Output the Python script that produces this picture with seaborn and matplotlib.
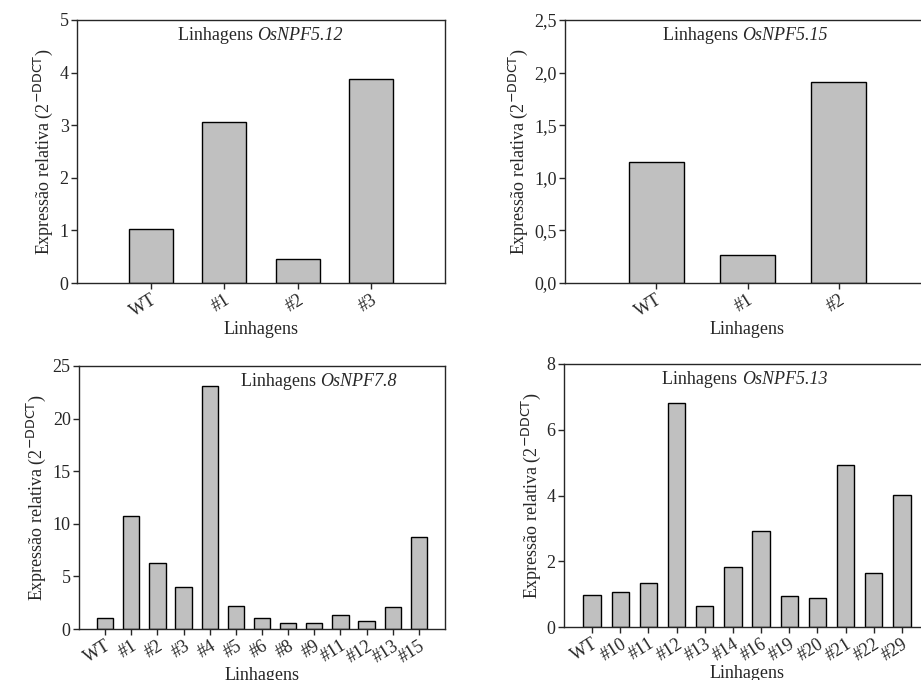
import pandas as pd
import seaborn as sns
from matplotlib import pyplot as plt

# data
lines_512 = ["WT", "#1", "#2", "#3"]
vals_512 = [1.03, 3.07, 0.46, 3.88]

lines_515 = ["WT", "#1", "#2"]
vals_515 = [1.15, 0.27, 1.91]

lines_78 = ["WT", "#1", "#2", "#3", "#4", "#5", "#6", "#8", "#9", "#11", "#12", "#13", "#15"]
vals_78 = [1.01, 10.76, 6.23, 4.02, 23.13, 2.22, 1.01, 0.60, 0.54, 1.36, 0.79, 2.06, 8.73]

lines_513 = ["WT", "#10", "#11", "#12", "#13", "#14", "#16", "#19", "#20", "#21", "#22", "#29"]
vals_513 = [0.98, 1.07, 1.33, 6.82, 0.65, 1.83, 2.91, 0.93, 0.89, 4.92, 1.65, 4.01]

sns.set_style("ticks")
plt.rcParams['font.family'] = ['Liberation Serif', 'DejaVu Serif']
plt.rcParams['mathtext.fontset'] = 'custom'
plt.rcParams['mathtext.rm'] = 'Liberation Serif'
plt.rcParams['mathtext.sf'] = 'Liberation Sans Narrow'

fs = 13
ylab = r"Expressão relativa (2$^{\mathsf{-DDCT}}$)"

fig = plt.figure(figsize=(9.21, 6.8), dpi=100)


def panel(rect, names, values, ymax, yticks, yticklabels, gene, split_x, bar_w):
    ax = fig.add_axes(rect)
    df = pd.DataFrame({"linha": names, "expr": values})
    sns.barplot(data=df, x="linha", y="expr", order=names, color="#c0c0c0",
                edgecolor="black", linewidth=1.0, width=bar_w, saturation=1, ax=ax)
    ax.set_xlim(-1, len(names))
    ax.set_ylim(0, ymax)
    ax.set_yticks(yticks)
    ax.set_yticklabels(yticklabels, fontsize=fs)
    ax.set_xticks(range(len(names)))
    ax.set_xticklabels(names, rotation=32, ha="right", rotation_mode="anchor", fontsize=fs)
    ax.set_xlabel("Linhagens", fontsize=fs, labelpad=0)
    ax.set_ylabel(ylab, fontsize=fs, labelpad=3)
    # title inside the axes: normal word + italic gene name
    ax.text(split_x, 0.94, "Linhagens ", transform=ax.transAxes,
            ha="right", va="center", fontsize=fs)
    ax.text(split_x, 0.94, gene, transform=ax.transAxes,
            ha="left", va="center", fontsize=fs, style="italic")
    for s in ax.spines.values():
        s.set_linewidth(1.0)
    ax.tick_params(length=4, width=1, pad=2)
    return ax


panel([77 / 921, 397 / 680, 368 / 921, 263 / 680], lines_512, vals_512, 5,
      [0, 1, 2, 3, 4, 5], ["0", "1", "2", "3", "4", "5"], "OsNPF5.12", 0.49, 0.6)
panel([565 / 921, 397 / 680, 365 / 921, 263 / 680], lines_515, vals_515, 2.5,
      [0, 0.5, 1, 1.5, 2, 2.5], ["0,0", "0,5", "1,0", "1,5", "2,0", "2,5"], "OsNPF5.15", 0.485, 0.6)
panel([79 / 921, 51 / 680, 366 / 921, 263 / 680], lines_78, vals_78, 25,
      [0, 5, 10, 15, 20, 25], ["0", "5", "10", "15", "20", "25"], "OsNPF7.8", 0.66, 0.62)
panel([564 / 921, 53 / 680, 366 / 921, 263 / 680], lines_513, vals_513, 8,
      [0, 2, 4, 6, 8], ["0", "2", "4", "6", "8"], "OsNPF5.13", 0.486, 0.62)

plt.savefig("out.png", dpi=100)
plt.close()
